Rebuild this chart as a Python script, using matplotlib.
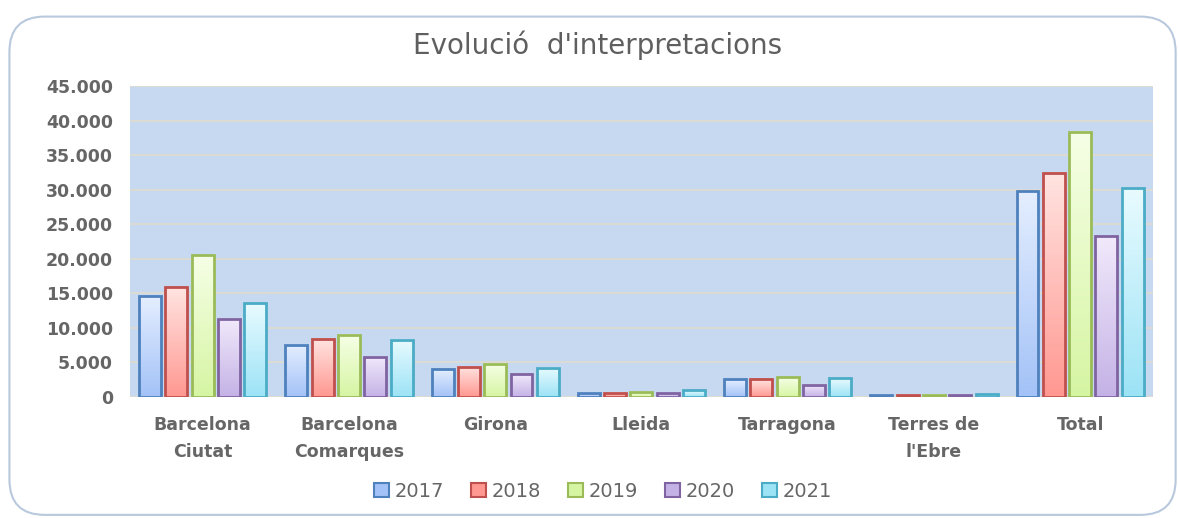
import numpy as np
import matplotlib.pyplot as plt
from matplotlib.patches import Patch, FancyBboxPatch
from matplotlib.colors import LinearSegmentedColormap
from matplotlib.ticker import FuncFormatter

# Dades
categories = ["Barcelona\nCiutat", "Barcelona\nComarques", "Girona", "Lleida",
              "Tarragona", "Terres de\nl'Ebre", "Total"]
anys = ["2017", "2018", "2019", "2020", "2021"]
valors_2017 = [14600, 7600, 4050, 600, 2600, 300, 29800]
valors_2018 = [15900, 8400, 4350, 600, 2600, 300, 32500]
valors_2019 = [20500, 9000, 4800, 750, 2850, 300, 38400]
valors_2020 = [11300, 5800, 3300, 600, 1800, 300, 23300]
valors_2021 = [13600, 8300, 4200, 950, 2700, 400, 30200]
series = [valors_2017, valors_2018, valors_2019, valors_2020, valors_2021]

# Colors: vora, degradat (dalt, baix)
vores = ["#4f81bd", "#c0504d", "#9bbb59", "#8064a2", "#4bacc6"]
degradats = [("#e4eeff", "#a3c2f7"), ("#ffe4e1", "#ff9891"), ("#f6ffe6", "#d6f5a3"),
             ("#f1e9fb", "#c4b2e6"), ("#e8fbff", "#9ce3f6")]

fig = plt.figure(figsize=(11.78, 5.18), dpi=100)
fig.patch.set_facecolor("white")

# Marc arrodonit del gràfic
marc = FancyBboxPatch((0.008, 0.006), 0.99, 0.962, boxstyle="round,pad=0,rounding_size=0.03",
                      transform=fig.transFigure, facecolor="white", edgecolor="#b9c9dd",
                      linewidth=1.5, mutation_aspect=1178 / 518, zorder=-1)
fig.patches.append(marc)

ax = fig.add_axes([0.110, 0.2336, 0.869, 0.600])
ax.set_facecolor("#c6d9f0")

x = np.arange(len(categories))
pas = 0.18
ample = 0.15
for i, (vals, vora, (c_dalt, c_baix)) in enumerate(zip(series, vores, degradats)):
    desp = (i - 2) * pas
    barres = ax.bar(x + desp, vals, width=ample, facecolor="none", edgecolor=vora,
                    linewidth=2.0, zorder=3)
    cmap = LinearSegmentedColormap.from_list("g%d" % i, [c_baix, c_dalt])
    grad = np.linspace(0, 1, 100).reshape(-1, 1)
    for b in barres:
        bx, bw, bh = b.get_x(), b.get_width(), b.get_height()
        ax.imshow(grad, cmap=cmap, origin="lower", aspect="auto",
                  extent=[bx, bx + bw, 0, bh], zorder=2)

ax.set_xlim(-0.5, len(categories) - 0.5)
ax.set_ylim(0, 45000)
ax.set_yticks(np.arange(0, 45001, 5000))
ax.yaxis.set_major_formatter(FuncFormatter(lambda v, p: f"{int(v):,}".replace(",", ".")))
ax.set_xticks(x)
ax.set_xticklabels(categories, linespacing=1.6)
ax.grid(axis="y", color="#e3dccb", linewidth=1.1, zorder=1)
ax.set_axisbelow(True)
for s in ax.spines.values():
    s.set_visible(False)
ax.tick_params(length=0, colors="#666666", labelsize=12.5)
ax.tick_params(axis="y", pad=12)
ax.tick_params(axis="x", pad=14)
for t in ax.get_xticklabels() + ax.get_yticklabels():
    t.set_fontweight("bold")
    t.set_color("#666666")

fig.text(0.507, 0.912, "Evolució  d'interpretacions", ha="center", va="center",
         fontsize=20, color="#5f5f5f")

handles = [Patch(facecolor=d[1], edgecolor=v, linewidth=1.5) for v, d in zip(vores, degradats)]
fig.legend(handles, anys, loc="center", bbox_to_anchor=(0.512, 0.052), ncol=5, frameon=False,
           fontsize=14, handlelength=0.75, handleheight=0.75, handletextpad=0.3,
           columnspacing=1.4, labelcolor="#666666")

fig.savefig("out.png", dpi=100)
